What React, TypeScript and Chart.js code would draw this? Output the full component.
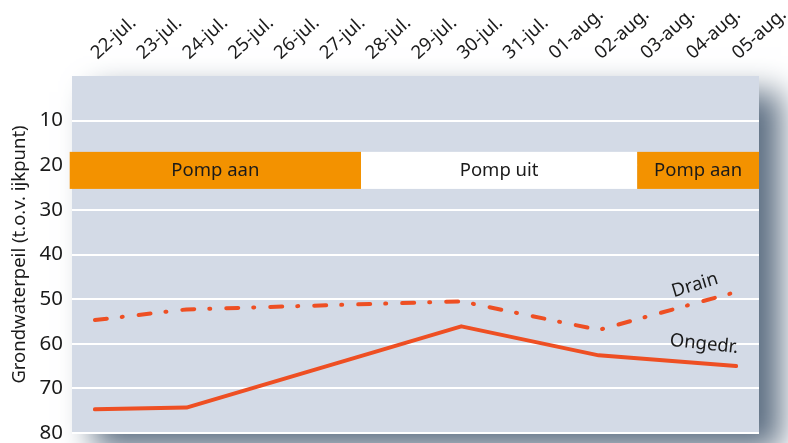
import React, { useEffect, useRef } from "react";
import { Chart, registerables } from "chart.js";

Chart.register(...registerables);

const categories = [
  "22-jul.", "23-jul.", "24-jul.", "25-jul.", "26-jul.", "27-jul.", "28-jul.",
  "29-jul.", "30-jul.", "31-jul.", "01-aug.", "02-aug.", "03-aug.", "04-aug.", "05-aug.",
];
const ongedrValues = [74.7, null, 74.3, null, null, null, null, null, 56.1, null, null, 62.6, null, null, 65.0];
const drainValues = [54.7, null, 52.3, null, null, null, null, null, 50.5, null, null, 56.9, null, null, 48.4];

const bandLabels = ["Pomp aan", "Pomp uit", "Pomp aan"];
const bandStarts = [-0.55, 5.81, 11.84];
const bandEnds = [5.81, 11.84, 14.5];
const bandColors = ["#f39200", "#ffffff", "#f39200"];
const bandTop = 17;
const bandBottom = 25.3;

const annotationTexts = ["Drain", "Ongedr."];
const annotationX = [13.1, 13.3];
const annotationY = [46.9, 60.1];
const annotationAngles = [-17, 6];

const yMin = 0;
const yMax = 80;
const yStep = 10;

const FONT = "'Noto Sans', 'Open Sans', sans-serif";
const TEXT = "#1a1a1a";
const LINE = "#ee4f23";

const backgroundPlugin = {
  id: "plotBackground",
  beforeDraw(chart: any) {
    const { ctx, chartArea: a } = chart;
    ctx.save();
    ctx.fillStyle = "#ffffff";
    ctx.fillRect(0, 0, chart.width, chart.height);
    ctx.shadowColor = "rgb(92,110,130)";
    ctx.shadowBlur = 30;
    ctx.shadowOffsetX = 22;
    ctx.shadowOffsetY = 16;
    ctx.fillStyle = "#d3dae6";
    ctx.fillRect(a.left, a.top, a.right - a.left, a.bottom - a.top);
    ctx.restore();
    ctx.save();
    ctx.fillStyle = "#d3dae6";
    ctx.fillRect(a.left, a.top, a.right - a.left, a.bottom - a.top);
    ctx.restore();
  },
};

const bandsPlugin = {
  id: "pumpBands",
  beforeDatasetsDraw(chart: any) {
    const { ctx } = chart;
    const x = chart.scales.x;
    const y = chart.scales.y;
    const top = y.getPixelForValue(bandTop);
    const bottom = y.getPixelForValue(bandBottom);
    ctx.save();
    for (let i = 0; i < bandLabels.length; i++) {
      const x0 = x.getPixelForValue(bandStarts[i]);
      let x1 = x.getPixelForValue(bandEnds[i]);
      if (i === bandLabels.length - 1) x1 = chart.chartArea.right;
      ctx.fillStyle = bandColors[i];
      ctx.fillRect(x0, top, x1 - x0, bottom - top);
      ctx.fillStyle = TEXT;
      ctx.font = `18.5px ${FONT}`;
      ctx.textAlign = "center";
      ctx.textBaseline = "middle";
      ctx.fillText(bandLabels[i], (x0 + x1) / 2, (top + bottom) / 2);
    }
    ctx.restore();
  },
};

const annotationsPlugin = {
  id: "lineLabels",
  afterDatasetsDraw(chart: any) {
    const { ctx } = chart;
    const x = chart.scales.x;
    const y = chart.scales.y;
    ctx.save();
    for (let i = 0; i < annotationTexts.length; i++) {
      const px = x.getPixelForValue(annotationX[i]);
      const py = y.getPixelForValue(annotationY[i]);
      ctx.save();
      ctx.translate(px, py);
      ctx.rotate((annotationAngles[i] * Math.PI) / 180);
      ctx.fillStyle = TEXT;
      ctx.font = `18.5px ${FONT}`;
      ctx.textAlign = "center";
      ctx.textBaseline = "middle";
      ctx.fillText(annotationTexts[i], 0, 0);
      ctx.restore();
    }
    ctx.restore();
  },
};

export default function App() {
  const canvasRef = useRef<HTMLCanvasElement | null>(null);

  useEffect(() => {
    document.body.style.margin = "0";
    const canvas = canvasRef.current;
    if (!canvas) return;
    const chart = new Chart(canvas, {
      type: "line",
      data: {
        labels: categories,
        datasets: [
          {
            label: "Ongedr.",
            data: ongedrValues,
            borderColor: LINE,
            borderWidth: 4,
            pointRadius: 0,
            spanGaps: true,
            tension: 0,
            borderCapStyle: "round",
            borderJoinStyle: "round",
          },
          {
            label: "Drain",
            data: drainValues,
            borderColor: LINE,
            borderWidth: 4,
            pointRadius: 0,
            spanGaps: true,
            tension: 0,
            borderDash: [12, 15, 1, 16],
            borderCapStyle: "round",
            borderJoinStyle: "round",
          },
        ],
      },
      options: {
        responsive: false,
        animation: false,
        devicePixelRatio: 1,
        layout: { padding: { right: 29, bottom: 10, left: 0, top: 0 } },
        plugins: {
          legend: { display: false },
          tooltip: { enabled: false },
        },
        scales: {
          x: {
            position: "top",
            offset: true,
            grid: { display: false, drawTicks: false },
            border: { display: false },
            ticks: {
              minRotation: 42,
              maxRotation: 42,
              autoSkip: false,
              padding: 12,
              labelOffset: 14,
              color: TEXT,
              font: { family: FONT, size: 18.5 },
            },
            afterFit: (scale: any) => {
              scale.height = 76;
              scale.paddingLeft = 0;
              scale.paddingRight = 0;
            },
          },
          y: {
            reverse: true,
            min: yMin,
            max: yMax,
            border: { display: false },
            grid: {
              color: (c: any) => (c.tick && c.tick.value === 0 ? "rgba(0,0,0,0)" : "#ffffff"),
              lineWidth: 2,
              drawTicks: false,
            },
            ticks: {
              stepSize: yStep,
              padding: 9,
              color: TEXT,
              font: { family: FONT, size: 20.5 },
              callback: (v: any) => (v === 0 ? "" : String(v)),
            },
            title: {
              display: true,
              text: "Grondwaterpeil (t.o.v. ijkpunt)",
              color: TEXT,
              font: { family: FONT, size: 18.5 },
              padding: { top: 9, bottom: 0 },
            },
            afterFit: (scale: any) => {
              scale.width = 72;
              scale.paddingTop = 0;
              scale.paddingBottom = 0;
            },
          },
        },
      },
      plugins: [backgroundPlugin, bandsPlugin, annotationsPlugin],
    });
    return () => chart.destroy();
  }, []);

  return (
    <div style={{ width: 788, height: 443 }}>
      <canvas ref={canvasRef} width={788} height={443} />
    </div>
  );
}
